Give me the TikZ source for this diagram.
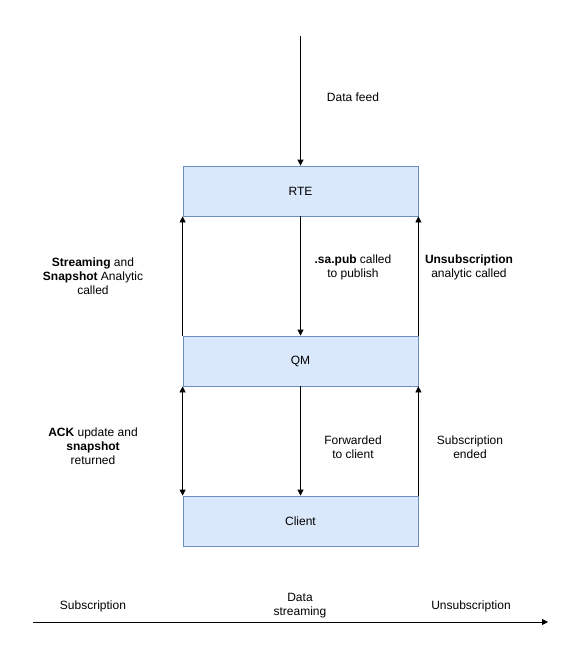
\documentclass[tikz,border=0pt]{standalone}
\usepackage{fontspec}
\setmainfont{Liberation Sans}
\usetikzlibrary{arrows.meta}
\begin{document}
\begin{tikzpicture}[x=1pt,y=-1pt,
  box/.style={draw=blue!45!gray!80, line width=0.8pt, fill={rgb,255:red,218;green,232;blue,252}, minimum width=235pt, minimum height=50pt, inner sep=0pt, font=\fontsize{12}{14}\selectfont},
  lbl/.style={align=center, font=\fontsize{12}{14}\selectfont, inner sep=0pt},
  arr/.style={-{Triangle[length=6pt,width=6pt]}, line width=0.8pt},
  darr/.style={{Triangle[length=6pt,width=6pt]}-{Triangle[length=6pt,width=6pt]}, line width=0.8pt}]
\useasboundingbox (0,0) rectangle (586,659);
\definecolor{boxline}{RGB}{108,142,191}
\tikzset{box/.append style={draw=boxline}}
\node[box] (rte) at (300.5,191) {RTE};
\node[box] (qm) at (300.5,361) {QM};
\node[box] (cl) at (300.5,521) {Client};
\coordinate (feed) at (300.5,36);
\draw[arr] (feed) -- (rte.north);
\draw[arr] (qm.north west) -- (rte.south west);
\draw[arr] (rte.south) -- (qm.north);
\draw[arr] (qm.north east) -- (rte.south east);
\draw[darr] (qm.south west) -- (cl.north west);
\draw[arr] (qm.south) -- (cl.north);
\draw[arr] (cl.north east) -- (qm.south east);
\node[lbl] (l0) at (353,97) {Data feed};
\node[lbl] (l1) at (93,276) {\textbf{Streaming} and\\\textbf{Snapshot} Analytic\\called};
\node[lbl] (l2) at (353,267) {\textbf{.sa.pub} called\\to publish};
\node[lbl] (l3) at (469,267) {\textbf{Unsubscription}\\analytic called};
\node[lbl] (l4) at (93,446) {\textbf{ACK} update and\\\textbf{snapshot}\\returned};
\node[lbl] (l5) at (353,447) {Forwarded\\to client};
\node[lbl] (l6) at (470,447) {Subscription\\ended};
\coordinate (t0) at (33,622);
\coordinate (t1) at (548,622);
\draw[arr] (t0) -- (t1);
\node[lbl] (s1) at (93,606) {Subscription};
\node[lbl] (s2) at (300,606) {Data\\streaming};
\node[lbl] (s3) at (471,606) {Unsubscription};
\end{tikzpicture}
\end{document}
